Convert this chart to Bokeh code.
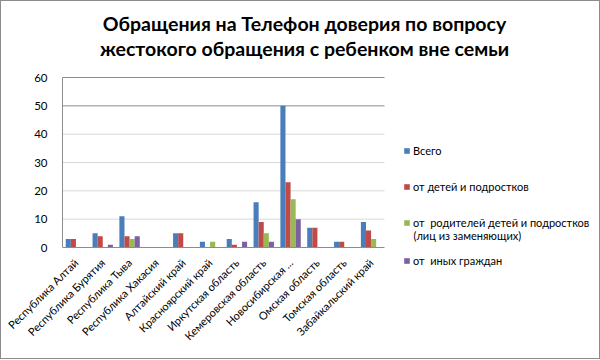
from bokeh.plotting import figure
from bokeh.models import Legend, LegendItem, Label, FixedTicker, Range1d
from bokeh.embed import file_html
from bokeh.resources import INLINE
import math

regions = ["Республика Алтай", "Республика Бурятия", "Республика Тыва", "Республика Хакасия",
           "Алтайский край", "Красноярский край", "Иркутская область", "Кемеровская область",
           "Новосибирская ...", "Омская область", "Томская область", "Забайкальский край"]
total = [3, 5, 11, 0, 5, 2, 3, 16, 50, 7, 2, 9]
from_children = [3, 4, 4, 0, 5, 0, 1, 9, 23, 7, 2, 6]
from_parents = [0, 0, 3, 0, 0, 2, 0, 5, 17, 0, 0, 3]
from_others = [0, 1, 4, 0, 0, 0, 2, 2, 10, 0, 0, 0]
series_names = ["Всего", "от детей и подростков",
                "от  родителей детей и подростков", "от  иных граждан"]
legend_extra_line = "(лиц из заменяющих)"
y_ticks = [0, 10, 20, 30, 40, 50, 60]
title_lines = ["Обращения на Телефон доверия по вопросу",
               "жестокого обращения с ребенком вне семьи"]

colors = ["#4a7ebb", "#be4b48", "#98b954", "#7d60a0"]
FONT = "Lato"

# layout (pixels); the host border shifts the canvas by 1px
FL, FW, FH = 61, 537, 266          # frame left (canvas), width, height
PX_PER_CAT = 322 / 12
PX_PER_UNIT = 170 / 60
ZERO_FROM_BOTTOM = 20
OFF = 1                            # image = canvas + OFF

n = len(regions)
p = figure(frame_width=FW, frame_height=FH, output_backend="svg", toolbar_location=None,
           title=None,
           x_range=Range1d(0, FW / PX_PER_CAT),
           y_range=Range1d(-ZERO_FROM_BOTTOM / PX_PER_UNIT, (FH - ZERO_FROM_BOTTOM) / PX_PER_UNIT),
           min_border_left=FL, min_border_right=0, min_border_top=0, min_border_bottom=91)
p.outline_line_color = None
p.background_fill_color = "white"
p.border_fill_color = "white"
p.styles = {"border": "1px solid #8c8c8c"}
p.xgrid.grid_line_color = None
p.ygrid.grid_line_color = None

# gridlines and category axis line (only across the category span)
grid_colors = ["#d9d9d9", "#d9d9d9", "#d9d9d9", "#d9d9d9", "#8c8c8c", "#8c8c8c"]
p.segment(x0=[0] * 6, x1=[n] * 6, y0=y_ticks[1:], y1=y_ticks[1:], line_color=grid_colors, line_width=1)

xs = [i + 0.5 for i in range(n)]
offs = [-0.285, -0.095, 0.095, 0.285]
rends = []
for vals, off, c in zip([total, from_children, from_parents, from_others], offs, colors):
    r = p.vbar(x=[x + off for x in xs], top=vals, width=0.19, fill_color=c, line_color=None)
    rends.append(r)

p.segment(x0=[0], x1=[n], y0=[0], y1=[0], line_color="#8c8c8c", line_width=1)

p.yaxis.ticker = FixedTicker(ticks=y_ticks)
p.yaxis.bounds = (0, 60)
p.yaxis.major_tick_line_color = None
p.yaxis.minor_tick_line_color = None
p.yaxis.axis_line_color = "#8c8c8c"
p.yaxis.major_label_text_font = FONT
p.yaxis.major_label_text_font_size = "11.5px"
p.yaxis.major_label_text_color = "#000000"
p.yaxis.major_label_standoff = 9

# category axis sits below the frame; labels pulled up to the zero line
p.xaxis.ticker = FixedTicker(ticks=xs)
p.xaxis.major_label_overrides = {x: r for x, r in zip(xs, regions)}
p.xaxis.major_label_orientation = math.pi / 4
p.xaxis.major_tick_line_color = None
p.xaxis.minor_tick_line_color = None
p.xaxis.axis_line_color = None
p.xaxis.major_label_text_font = FONT
p.xaxis.major_label_text_font_size = "11px"
p.xaxis.major_label_text_color = "#000000"
p.xaxis.major_label_standoff = -ZERO_FROM_BOTTOM + 7

for txt, cy in zip(title_lines, [23, 48]):
    p.add_layout(Label(x=304 - OFF - FL, y=FH - (cy - OFF), x_units="screen", y_units="screen",
                       text=txt, text_align="center", text_baseline="middle",
                       text_font=FONT, text_font_style="bold",
                       text_font_size="19.5px", text_color="#000000"))

leg_centers = [150, 186, 222, 260]
for r, name, c in zip(rends, series_names, leg_centers):
    lg = Legend(items=[LegendItem(label=name, renderers=[r])],
                location=(403 - OFF - FL, FH - (c - OFF) - 6.5),
                glyph_width=7, glyph_height=7, label_standoff=3, padding=0, margin=0, spacing=0,
                border_line_color=None, background_fill_alpha=0,
                label_text_font=FONT, label_text_font_size="11px", label_text_color="#000000",
                label_height=13)
    p.add_layout(lg, "center")
p.add_layout(Label(x=413 - OFF - FL, y=FH - (235 - OFF), x_units="screen", y_units="screen",
                   text=legend_extra_line, text_baseline="middle",
                   text_font=FONT, text_font_size="11px", text_color="#000000"))

open("out.html", "w").write(file_html(p, INLINE))
